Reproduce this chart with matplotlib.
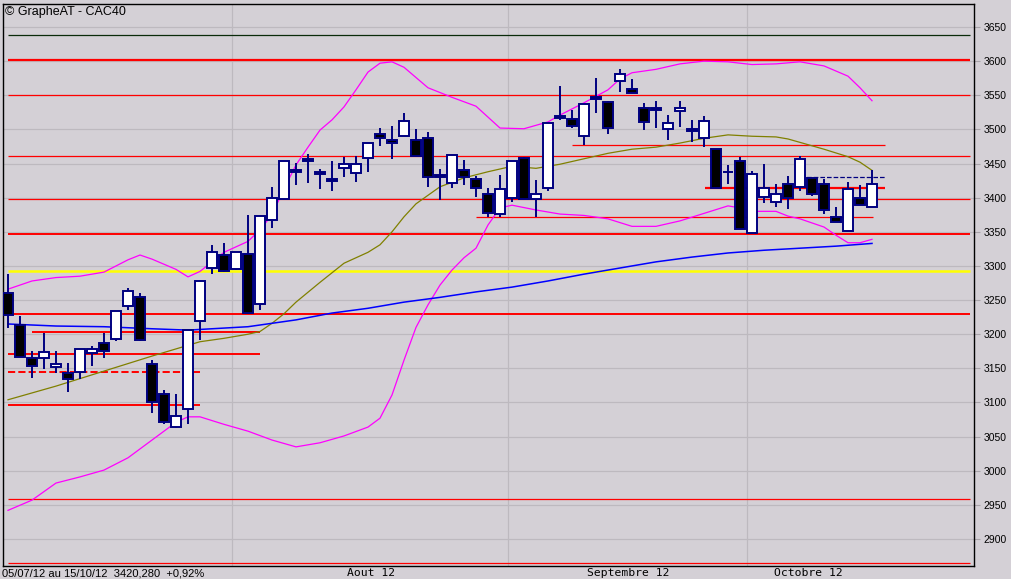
import numpy as np
import matplotlib
matplotlib.use('Agg')
import matplotlib.pyplot as plt

# ---- données (CAC40, 05/07/12 -> 15/10/12) ----
opens = [3261, 3214, 3165, 3165, 3152, 3143, 3145, 3172, 3187, 3193,
         3242, 3254, 3157, 3113, 3064, 3091, 3219, 3297, 3316, 3296,
         3318, 3244, 3367, 3398, 3440, 3457, 3438, 3428, 3444, 3436,
         3458, 3493, 3484, 3491, 3484, 3487, 3433, 3422, 3440, 3427,
         3405, 3376, 3400, 3458, 3398, 3414, 3520, 3515, 3491, 3547,
         3540, 3571, 3559, 3532, 3531, 3500, 3527, 3500, 3488, 3471,
         3437, 3454, 3348, 3401, 3394, 3420, 3415, 3429, 3420, 3371,
         3351, 3400, 3387]
highs = [3288, 3227, 3175, 3202, 3175, 3158, 3179, 3183, 3202, 3234,
         3267, 3261, 3162, 3118, 3112, 3206, 3278, 3331, 3333, 3320,
         3375, 3373, 3416, 3453, 3451, 3464, 3442, 3454, 3460, 3461,
         3480, 3502, 3505, 3524, 3501, 3496, 3442, 3462, 3455, 3432,
         3414, 3433, 3454, 3459, 3426, 3509, 3563, 3529, 3537, 3575,
         3542, 3588, 3574, 3539, 3541, 3521, 3542, 3514, 3520, 3472,
         3448, 3459, 3439, 3450, 3420, 3432, 3461, 3429, 3427, 3386,
         3423, 3419, 3440]
lows = [3209, 3167, 3136, 3149, 3143, 3116, 3135, 3154, 3165, 3190,
        3235, 3190, 3085, 3068, 3062, 3069, 3192, 3288, 3291, 3294,
        3230, 3235, 3356, 3398, 3419, 3421, 3412, 3410, 3431, 3423,
        3437, 3475, 3457, 3491, 3461, 3415, 3397, 3414, 3419, 3401,
        3372, 3372, 3393, 3398, 3372, 3410, 3514, 3502, 3477, 3524,
        3494, 3555, 3553, 3499, 3502, 3484, 3504, 3482, 3474, 3414,
        3420, 3354, 3348, 3392, 3386, 3384, 3410, 3402, 3376, 3365,
        3351, 3389, 3387]
closes = [3228, 3167, 3154, 3174, 3156, 3134, 3179, 3178, 3175, 3234,
          3263, 3192, 3100, 3072, 3080, 3206, 3278, 3320, 3292, 3320,
          3231, 3373, 3400, 3453, 3437, 3454, 3434, 3425, 3449, 3449,
          3480, 3488, 3480, 3513, 3461, 3431, 3430, 3462, 3431, 3414,
          3378, 3413, 3454, 3398, 3405, 3509, 3517, 3505, 3537, 3544,
          3502, 3581, 3553, 3511, 3529, 3509, 3531, 3497, 3513, 3414,
          3438, 3354, 3434, 3414, 3405, 3400, 3456, 3406, 3382, 3365,
          3412, 3389, 3420]

# bandes de Bollinger et moyennes mobiles (index de bougie, valeur)
bb_up_idx = [0, 2, 4, 6, 8, 10, 11, 12, 14, 15, 16, 18, 20, 21, 22, 23, 24, 25, 26,
             27, 28, 29, 30, 31, 32, 33, 35, 37, 39, 41, 43, 45, 46, 48, 50, 51, 52,
             54, 56, 58, 60, 62, 64, 66, 68, 70, 71, 72]
bb_up_val = [3266, 3278, 3283, 3285, 3291, 3309, 3316, 3310, 3295, 3284, 3292, 3320,
             3336, 3353, 3375, 3413, 3448, 3474, 3499, 3514, 3533, 3558, 3584, 3597,
             3599, 3591, 3561, 3547, 3534, 3502, 3501, 3511, 3521, 3539, 3558, 3574,
             3583, 3588, 3596, 3600, 3599, 3595, 3596, 3599, 3593, 3578, 3561, 3542]
bb_lo_idx = [0, 2, 4, 6, 8, 10, 12, 14, 15, 16, 18, 20, 22, 24, 26, 28, 30, 31, 32,
             33, 34, 35, 36, 37, 38, 39, 40, 41, 42, 44, 46, 48, 50, 52, 54, 56, 58,
             60, 61, 62, 64, 65, 66, 68, 69, 70, 71, 72]
bb_lo_val = [2942, 2957, 2982, 2991, 3001, 3019, 3045, 3071, 3079, 3079, 3068, 3058,
             3045, 3035, 3041, 3051, 3064, 3077, 3111, 3162, 3210, 3243, 3272, 3294,
             3312, 3326, 3360, 3385, 3389, 3382, 3376, 3374, 3369, 3358, 3358, 3366,
             3377, 3388, 3385, 3380, 3380, 3373, 3369, 3357, 3345, 3334, 3334, 3339]
ma_olive_idx = [0, 4, 8, 12, 16, 18, 20, 21, 22, 23, 24, 26, 28, 30, 31, 32, 33, 34,
                36, 38, 40, 42, 44, 46, 48, 50, 52, 54, 56, 58, 60, 62, 64, 65, 66,
                68, 70, 71, 72]
ma_olive_val = [3104, 3124, 3146, 3168, 3189, 3194, 3200, 3204, 3216, 3230, 3247,
                3276, 3304, 3320, 3331, 3350, 3372, 3391, 3416, 3429, 3438, 3446,
                3443, 3449, 3457, 3465, 3471, 3474, 3480, 3487, 3492, 3490, 3489,
                3486, 3481, 3471, 3460, 3452, 3440]
ma_blue_idx = [0, 4, 8, 12, 15, 17, 20, 22, 24, 27, 30, 33, 36, 39, 42, 45, 48, 51,
               54, 57, 60, 63, 66, 69, 72]
ma_blue_val = [3215, 3212, 3211, 3208, 3206, 3208, 3211, 3216, 3221, 3231, 3238,
               3247, 3254, 3262, 3269, 3278, 3288, 3297, 3306, 3313, 3319, 3323,
               3326, 3329, 3333]

# lignes horizontales: (niveau, debut, fin, couleur, epaisseur, style)
hlines = [
    (3638, 0, 80.2, '#0a2a0a', 0.9, '-'),
    (3602, 0, 80.2, '#ff0000', 1.6, '-'),
    (3550, 0, 80.2, '#ff0000', 0.9, '-'),
    (3477, 47, 73.1, '#ff0000', 0.9, '-'),
    (3461, 0, 80.2, '#ff0000', 0.9, '-'),
    (3430, 66, 73.1, '#000080', 0.9, '--'),
    (3414, 58.1, 73.1, '#ff0000', 1.6, '-'),
    (3398.5, 0, 80.2, '#ff0000', 0.9, '-'),
    (3371, 39, 72.1, '#ff0000', 0.9, '-'),
    (3347, 0, 80.2, '#ff0000', 1.4, '-'),
    (3230, 0, 80.2, '#ff0000', 1.4, '-'),
    (3203, 2, 21, '#ff0000', 1.4, '-'),
    (3171, 0, 21, '#ff0000', 1.4, '-'),
    (3145, 0, 16, '#ff0000', 1.4, '--'),
    (3097, 0, 16, '#ff0000', 1.4, '-'),
    (2959, 0, 80.2, '#ff0000', 0.9, '-'),
    (2865, 0, 80.2, '#ff0000', 0.9, '-'),
]
yellow_level = 3292.6

month_labels = ['Aout 12', 'Septembre 12', 'Octobre 12']
month_label_pos = [30.25, 51.7, 66.7]
month_starts = [18.67, 41.67, 61.6]
y_ticks = list(range(2900, 3651, 50))

bg = '#d4d0d6'
navy = '#000080'

fig = plt.figure(figsize=(10.12, 5.79), dpi=100)
fig.patch.set_facecolor(bg)
ax = fig.add_axes([3 / 1012, 13 / 579, 971 / 1012, 562 / 579])
ax.set_facecolor(bg)
ax.set_xlim(-0.417, 80.5)
ax.set_ylim(2860.5, 3683.7)

# grille
ax.set_yticks(y_ticks)
ax.yaxis.grid(True, color='#bdb9bf', lw=0.9, zorder=0)
for xm in month_starts:
    ax.axvline(xm, color='#bdb9bf', lw=0.9, zorder=0)

# lignes horizontales
for lvl, x0, x1, col, lw, ls in hlines:
    ax.hlines(lvl, x0, x1, colors=col, lw=lw, linestyles=ls, zorder=2)
ax.hlines(yellow_level, 0, 80.2, colors='#ffff00', lw=1.8, zorder=2)

# indicateurs
ax.plot(bb_up_idx, bb_up_val, color='#ff00ff', lw=0.9, zorder=3)
ax.plot(bb_lo_idx, bb_lo_val, color='#ff00ff', lw=0.9, zorder=3)
ax.plot(ma_olive_idx, ma_olive_val, color='#808000', lw=0.9, zorder=3)
ax.plot(ma_blue_idx, ma_blue_val, color='#0000ff', lw=1.1, zorder=3)

# bougies
idx = np.arange(len(opens))
o = np.array(opens, float)
c = np.array(closes, float)
ax.vlines(idx, lows, highs, colors=navy, lw=1.4, zorder=4)
body_h = np.maximum(np.abs(c - o), 1.0)
fills = ['white' if cc >= oo else 'black' for oo, cc in zip(o, c)]
ax.bar(idx, body_h, bottom=np.minimum(o, c), width=0.8, color=fills,
       edgecolor=navy, linewidth=1.4, zorder=5)

# axes / textes
ax.yaxis.tick_right()
ax.tick_params(axis='y', length=4, color='#a8a4aa', labelsize=7.5, pad=3)
ax.set_yticklabels([str(v) for v in y_ticks], fontfamily='Liberation Sans')
ax.set_xticks(month_label_pos)
ax.set_xticklabels(month_labels, fontfamily='DejaVu Sans Mono', fontsize=8.2)
ax.tick_params(axis='x', length=0, pad=1.5)
for s in ax.spines.values():
    s.set_color('black')
    s.set_linewidth(1.0)

fig.text(5 / 1012, 1 - 12 / 579, '\u00a9 GrapheAT - CAC40', fontsize=9,
         fontfamily='Liberation Sans', va='center', ha='left')
fig.text(2 / 1012, 1 - 573 / 579, '05/07/12 au 15/10/12  3420,280  +0,92%',
         fontsize=8, fontfamily='Liberation Sans', va='center', ha='left')

plt.savefig('out.png', dpi=100, facecolor=bg)
plt.close()
